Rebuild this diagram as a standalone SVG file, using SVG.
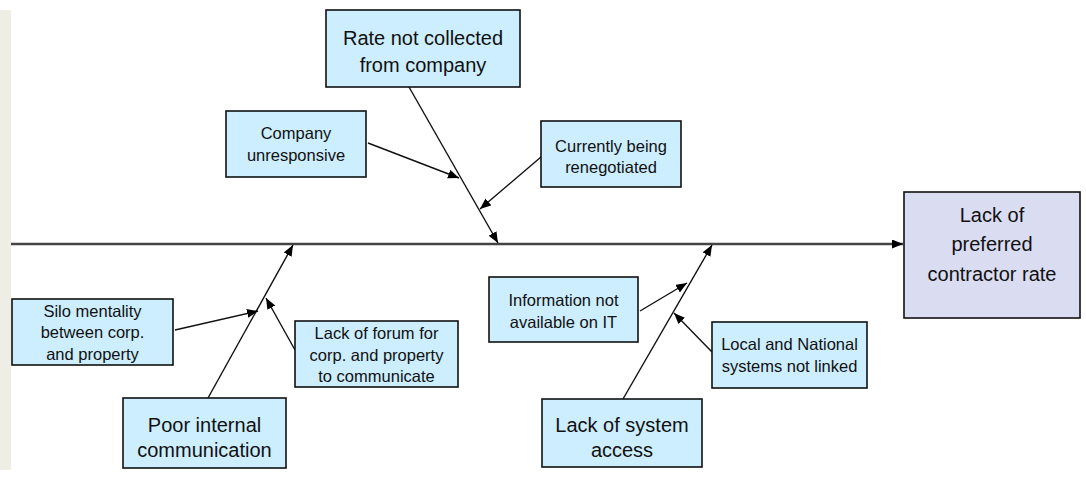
<svg xmlns="http://www.w3.org/2000/svg" width="1086" height="477" viewBox="0 0 1086 477">
<style>
.bx{fill:#cdeefe;stroke:#111;stroke-width:1.6}
.eff{fill:#dadcf2;stroke:#111;stroke-width:1.6}
.t{font-family:"Liberation Sans",Arial,sans-serif;fill:#111;text-anchor:middle}
.s{font-size:16.5px}
.l{font-size:20px}
.c{stroke:#111;stroke-width:1.4;fill:none;marker-end:url(#ah)}
.sp{stroke:#444;stroke-width:2.5;fill:none;marker-end:url(#ah)}
</style>
<defs>
<marker id="ah" markerUnits="userSpaceOnUse" markerWidth="12" markerHeight="10" refX="11" refY="4.5" orient="auto">
<path d="M0,0 L11,4.5 L0,9 z" fill="#000"/>
</marker>
</defs>
<rect x="0" y="0" width="1086" height="477" fill="#fff"/>
<rect x="0" y="10" width="11" height="460" fill="#efeee6"/>
<g id="connectors">
<line class="sp" x1="11" y1="244" x2="903" y2="244"/>
<line class="c" x1="409" y1="87" x2="498" y2="243"/>
<line class="c" x1="368" y1="143" x2="459" y2="178"/>
<line class="c" x1="541" y1="157" x2="480" y2="209"/>
<line class="c" x1="208" y1="398" x2="293" y2="245"/>
<line class="c" x1="175" y1="330" x2="258" y2="311"/>
<line class="c" x1="295" y1="350" x2="266" y2="298"/>
<line class="c" x1="623" y1="399" x2="712" y2="245"/>
<line class="c" x1="640" y1="311" x2="687" y2="283"/>
<line class="c" x1="712" y1="352" x2="674" y2="313"/>
</g>
<g id="effect">
<rect class="eff" x="904" y="192" width="176" height="126"/>
<text class="t l" x="992" y="222">Lack of</text>
<text class="t l" x="992" y="251">preferred</text>
<text class="t l" x="992" y="281">contractor rate</text>
</g>
<g id="rate-not-collected">
<rect class="bx" x="326" y="10" width="194" height="77"/>
<text class="t l" x="423" y="45">Rate not collected</text>
<text class="t l" x="423" y="72">from company</text>
</g>
<g id="company-unresponsive">
<rect class="bx" x="226" y="111" width="140" height="66"/>
<text class="t s" x="296" y="139">Company</text>
<text class="t s" x="296" y="161">unresponsive</text>
</g>
<g id="renegotiated">
<rect class="bx" x="541" y="121" width="140" height="66"/>
<text class="t s" x="611" y="152">Currently being</text>
<text class="t s" x="611" y="173">renegotiated</text>
</g>
<g id="silo">
<rect class="bx" x="12" y="299" width="161" height="66"/>
<text class="t s" x="92.5" y="317">Silo mentality</text>
<text class="t s" x="92.5" y="338">between corp.</text>
<text class="t s" x="92.5" y="360">and property</text>
</g>
<g id="forum">
<rect class="bx" x="295" y="321" width="163" height="66"/>
<text class="t s" x="376.5" y="339">Lack of forum for</text>
<text class="t s" x="376.5" y="361">corp. and property</text>
<text class="t s" x="376.5" y="382">to communicate</text>
</g>
<g id="poor-communication">
<rect class="bx" x="123" y="398" width="163" height="70"/>
<text class="t l" x="204.5" y="432">Poor internal</text>
<text class="t l" x="204.5" y="457">communication</text>
</g>
<g id="system-access">
<rect class="bx" x="542" y="399" width="160" height="68"/>
<text class="t l" x="622" y="432">Lack of system</text>
<text class="t l" x="622" y="457">access</text>
</g>
<g id="info-not-available">
<rect class="bx" x="489" y="277" width="149" height="65"/>
<text class="t s" x="563.5" y="306">Information not</text>
<text class="t s" x="563.5" y="328">available on IT</text>
</g>
<g id="not-linked">
<rect class="bx" x="712" y="322" width="155" height="66"/>
<text class="t s" x="789.5" y="350">Local and National</text>
<text class="t s" x="789.5" y="372">systems not linked</text>
</g>
</svg>
